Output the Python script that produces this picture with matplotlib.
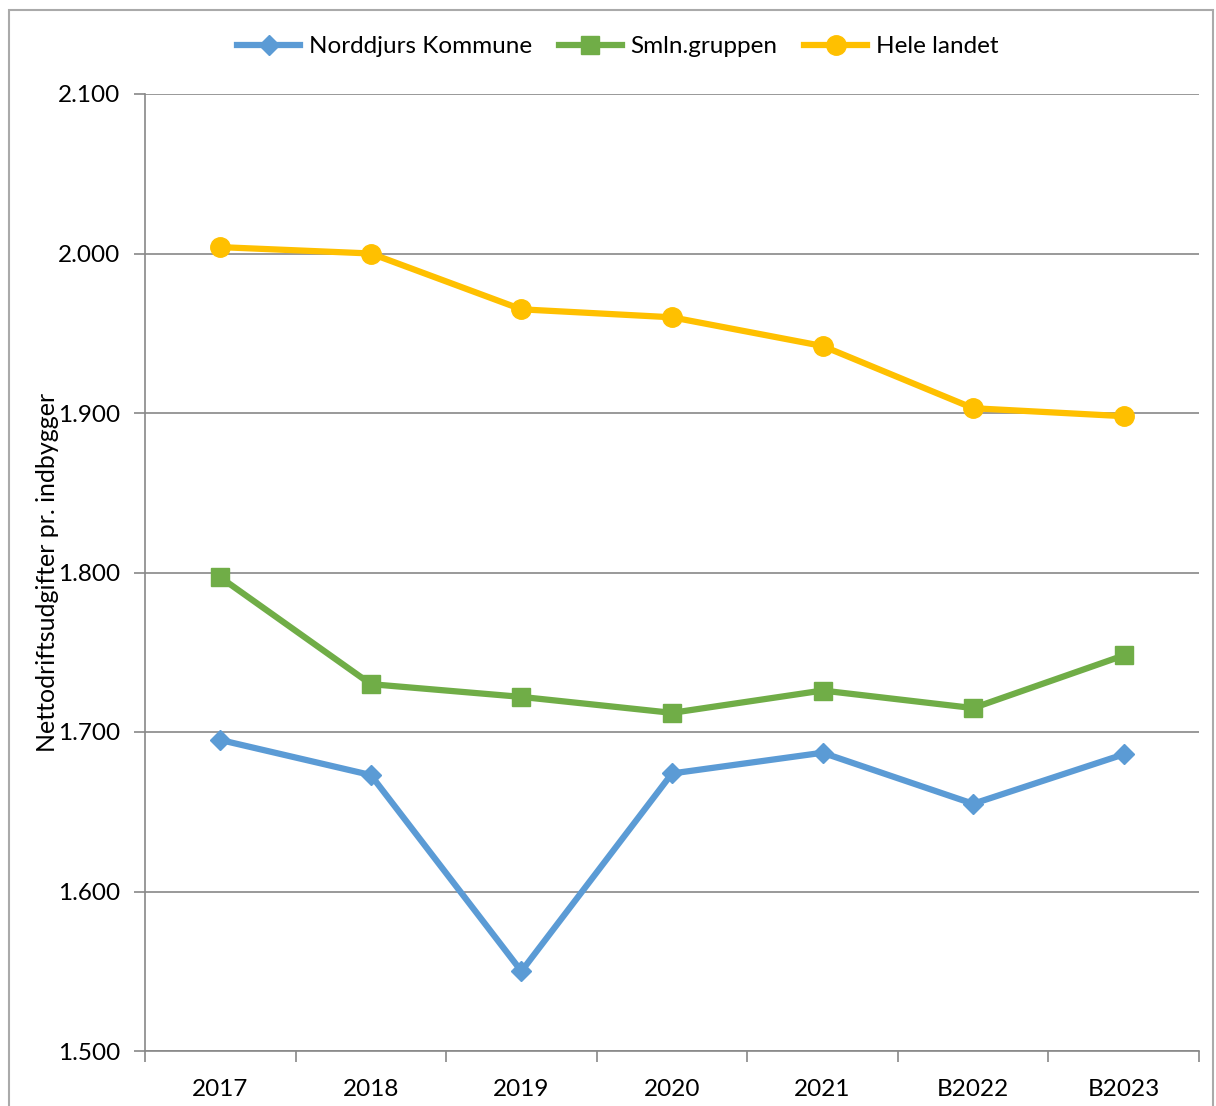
import matplotlib
matplotlib.use("Agg")
import matplotlib.pyplot as plt
from matplotlib.patches import Rectangle

years = ["2017", "2018", "2019", "2020", "2021", "B2022", "B2023"]
norddjurs = [1695, 1673, 1550, 1674, 1687, 1655, 1686]
smln = [1797, 1730, 1722, 1712, 1726, 1715, 1748]
hele = [2004, 2000, 1965, 1960, 1942, 1903, 1898]

plt.rcParams["font.family"] = ["Lato", "DejaVu Sans"]

fig = plt.figure(figsize=(12.16, 11.06), dpi=100)
ax = fig.add_axes([145/1216, 1 - 1051/1106, (1199-145)/1216, (1051-94)/1106])

x = list(range(len(years)))
ax.plot(x, norddjurs, color="#5b9bd5", lw=4.5, marker="D", ms=10, label="Norddjurs Kommune")
ax.plot(x, smln, color="#70ad47", lw=4.5, marker="s", ms=13, label="Smln.gruppen")
ax.plot(x, hele, color="#ffc000", lw=4.5, marker="o", ms=14, label="Hele landet")

ax.set_xlim(-0.5, len(years) - 0.5)
ax.set_ylim(1500, 2100)
ax.set_yticks(range(1500, 2101, 100))
ax.set_yticklabels([f"{v/1000:.3f}" for v in range(1500, 2101, 100)])
ax.yaxis.grid(True, color="#888888", lw=1.2)
ax.set_axisbelow(True)

ax.set_xticks(x)
ax.set_xticklabels(years)
ax.set_xticks([i + 0.5 for i in range(-1, len(years))], minor=True)
ax.tick_params(axis="x", which="major", length=0, pad=20, labelsize=17.5)
ax.tick_params(axis="x", which="minor", length=8, color="#888888", width=1.2)
ax.tick_params(axis="y", length=8, color="#888888", width=1.2, labelsize=17.5, pad=10)

for s in ["top", "right"]:
    ax.spines[s].set_visible(False)
for s in ["left", "bottom"]:
    ax.spines[s].set_color("#888888")
    ax.spines[s].set_linewidth(1.2)

ax.set_ylabel("Nettodriftsudgifter pr. indbygger", fontsize=18)
ax.yaxis.set_label_coords(-0.082, 0.5)

fig.legend(loc="upper center", bbox_to_anchor=(0.508, 0.987), ncol=3, frameon=False,
           fontsize=17.5, handlelength=2.6, columnspacing=1.1, handletextpad=0.35)

fig.patches.append(Rectangle((9/1216, -0.1), (1213-9)/1216, 1 - 10/1106 + 0.1,
                             transform=fig.transFigure, fill=False,
                             edgecolor="#aaaaaa", lw=1.5))

fig.savefig("out.png", dpi=100)
